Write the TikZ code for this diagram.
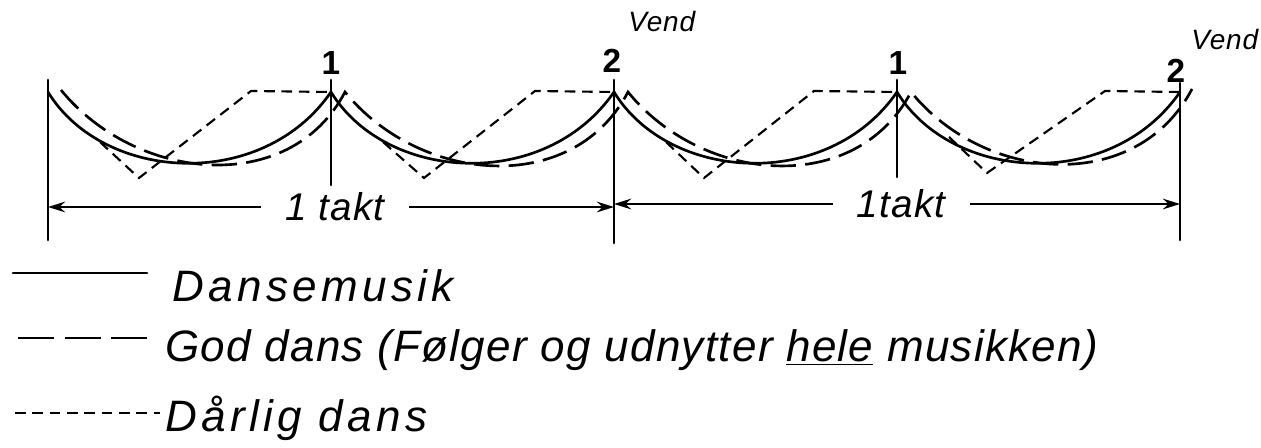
\documentclass[tikz,border=0pt]{standalone}
\usepackage{fontspec}
\newfontfamily\handfont{Liberation Sans}[LetterSpace=3]
\usetikzlibrary{arrows.meta}

\begin{document}
\begin{tikzpicture}[
    x=0.75pt, y=-0.75pt,
    music/.style={line width=2pt, line cap=round},
    good/.style={line width=2pt, dash pattern=on 19pt off 7pt},
    bad/.style={line width=1.6pt, dash pattern=on 8pt off 5pt},
    beat/.style={font=\handfont\bfseries\fontsize{25}{25}\selectfont, anchor=base, inner sep=0pt},
    vend/.style={font=\handfont\itshape\fontsize{21}{21}\selectfont, anchor=base west, inner sep=0pt},
    takt/.style={font=\handfont\itshape\fontsize{29}{29}\selectfont, inner xsep=18pt, inner ysep=0pt},
    legend/.style={font=\handfont\itshape\fontsize{33}{33}\selectfont, anchor=base west, inner sep=0pt},
    arr/.style={-{Stealth[length=4.5mm, width=2.8mm]}, line width=1.6pt}
]
    \useasboundingbox (0,0) rectangle (1261,448);

    % Beat points
    \coordinate (b0) at (48,92);
    \coordinate (b1) at (331,92);
    \coordinate (b2) at (614,92);
    \coordinate (b3) at (897,92);
    \coordinate (b4) at (1180,92);

    % Beat lines
    \draw[music] (b0) ++(0,-12) -- ++(0,160);
    \draw[music] (b1) ++(0,-12) -- ++(0,105);
    \draw[music] (b2) ++(0,-12) -- ++(0,163);
    \draw[music] (b3) ++(0,-12) -- ++(0,97);
    \draw[music] (b4) ++(0,-9) -- ++(0,157);

    % Beat labels
    \node[beat] (one1) at (331,75) {1};
    \node[beat] (two1) at (612,73) {2};
    \node[beat] (one2) at (898,75) {1};
    \node[beat] (two2) at (1176,83) {2};
    \node[vend] (vend1) at (628,32) {Vend};
    \node[vend] (vend2) at (1191,50) {Vend};

    % Dance music
    \draw[music] (b0) .. controls +(55,90) and +(-69,100) .. (b1)
                      .. controls +(55,90) and +(-69,100) .. (b2)
                      .. controls +(55,90) and +(-69,100) .. (b3)
                      .. controls +(55,90) and +(-69,100) .. (b4);

    % Good dance
    \coordinate (g0) at (61,90);
    \coordinate (g1) at (345,92);
    \coordinate (g2) at (628,92);
    \coordinate (g3) at (911,92);
    \coordinate (g4) at (1192,89);
    \draw[good] (g0) .. controls +(75,92) and +(-55,105) .. (g1)
                     .. controls +(75,92) and +(-55,105) .. (g2)
                     .. controls +(75,92) and +(-55,105) .. (g3)
                     .. controls +(75,92) and +(-55,105) .. (g4);

    % Bad dance
    \draw[bad] (b0) ++(52,50) -- ++(39,36) -- ++(112,-87) -- (b1);
    \draw[bad] (b1) ++(52,50) -- ++(41,36) -- ++(111,-87) -- (b2);
    \draw[bad] (b2) ++(52,50) -- ++(38,36) -- ++(110,-87) -- (b3);
    \draw[bad] (b3) ++(52,45) -- ++(38,36) -- ++(118,-82) -- (b4);

    % One bar
    \node[takt] (takt1) at (335,207) {1 takt};
    \node[takt] (takt2) at (901,204) {1takt};
    \draw[arr] (takt1.west) -- (takt1.west -| b0);
    \draw[arr] (takt1.east) -- (takt1.east -| b2);
    \draw[arr] (takt2.west) -- (takt2.west -| b2);
    \draw[arr] (takt2.east) -- (takt2.east -| b4);

    % Legend
    \coordinate (l1) at (13,273);
    \coordinate (l2) at (18,338);
    \coordinate (l3) at (15,413);
    \node[legend, font=\handfont\addfontfeature{LetterSpace=10}\itshape\fontsize{33}{33}\selectfont] (leg1) at (172,302) {Dansemusik};
    \node[legend] (leg2) at (165,362) {God dans (Følger og udnytter \underline{hele} musikken)};
    \node[legend, font=\handfont\addfontfeature{LetterSpace=10}\itshape\fontsize{33}{33}\selectfont] (leg3) at (165,432) {Dårlig dans};
    \draw[music] (l1) -- ++(134,0);
    \draw[good, dash pattern=on 27pt off 8pt] (l2) -- ++(129,0);
    \draw[bad] (l3) -- ++(145,0);
\end{tikzpicture}
\end{document}
